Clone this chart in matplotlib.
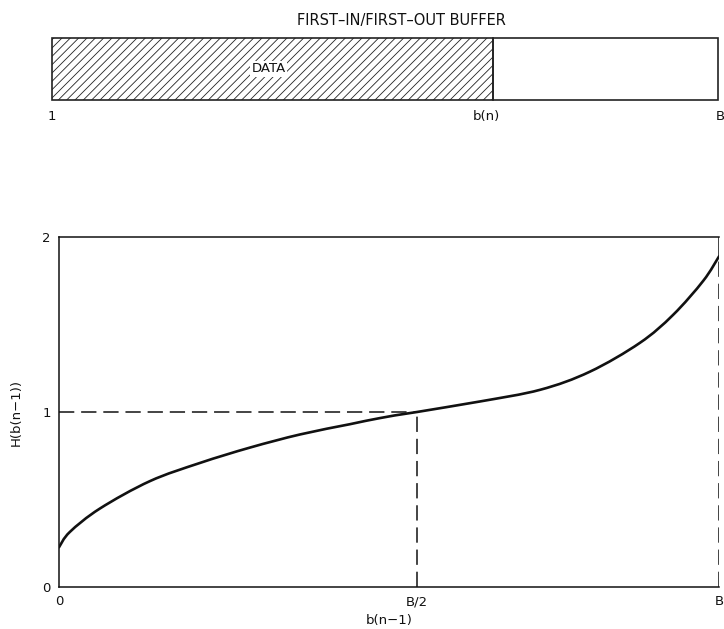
import numpy as np
import matplotlib
matplotlib.use("Agg")
import matplotlib.pyplot as plt
from matplotlib.patches import Rectangle, PathPatch
from matplotlib.path import Path

plt.rcParams["font.family"] = ["DejaVu Sans"]
plt.rcParams["hatch.linewidth"] = 0.6

# buffer occupancy (fraction of B) and the gain curve H(b(n-1))
buffer_fill = 0.662
b_frac = [0.0, 0.015, 0.057, 0.127, 0.197, 0.267, 0.337, 0.406, 0.448, 0.5,
          0.604, 0.704, 0.786, 0.869, 0.924, 0.974, 1.0]
h_val = [0.227, 0.314, 0.448, 0.605, 0.709, 0.797, 0.872, 0.930, 0.965, 1.0,
         1.06, 1.127, 1.23, 1.395, 1.555, 1.75, 1.889]
x_ticks = [0.0, 0.5, 1.0]
x_ticklabels = ["0", "B/2", "B"]
y_ticks = [0, 1, 2]

# the hand-drawn axis puts B/2 a bit right of centre
MID = 0.5424


def fwd(x):
    x = np.asarray(x, dtype=float)
    return np.where(x <= 0.5, x * MID / 0.5, MID + (x - 0.5) * (1 - MID) / 0.5)


def inv(u):
    u = np.asarray(u, dtype=float)
    return np.where(u <= MID, u * 0.5 / MID, 0.5 + (u - MID) * 0.5 / (1 - MID))


def smooth_path(xs, ys):
    # Catmull-Rom through the points, written as cubic Bezier segments
    p = np.column_stack([xs, ys])
    verts = [p[0]]
    codes = [Path.MOVETO]
    for i in range(len(p) - 1):
        p0 = p[i - 1] if i > 0 else p[i]
        p1, p2 = p[i], p[i + 1]
        p3 = p[i + 2] if i + 2 < len(p) else p[i + 1]
        verts += [p1 + (p2 - p0) / 6, p2 - (p3 - p1) / 6, p2]
        codes += [Path.CURVE4] * 3
    return Path(verts, codes)


W, H = 724, 629
fig = plt.figure(figsize=(W / 100, H / 100), dpi=100)
ink = "#111111"
fs = 9.5

# --- FIFO buffer strip ---
bx = fig.add_axes([52 / W, 1 - 100 / H, (718 - 52) / W, (100 - 38) / H])
bx.set_xlim(0, 1)
bx.set_ylim(0, 1)
bx.axis("off")
bx.add_patch(Rectangle((0, 0), buffer_fill, 1, facecolor="white",
                       edgecolor="#222222", hatch="////", lw=1.2, clip_on=False))
bx.add_patch(Rectangle((buffer_fill, 0), 1 - buffer_fill, 1, facecolor="none",
                       edgecolor="#222222", lw=1.2, clip_on=False))
bx.text(0.325, 0.5, "DATA", ha="center", va="center", fontsize=fs,
        color=ink, bbox=dict(facecolor="white", edgecolor="none", pad=1.0))
bx.text(0.525, 1.29, "FIRST\u2013IN/FIRST\u2013OUT BUFFER", ha="center", va="center",
        fontsize=10.5, color=ink)
for xv, lab in [(0.0, "1"), (buffer_fill - 0.01, "b(n)"), (1.003, "B")]:
    bx.text(xv, -0.27, lab, ha="center", va="center", fontsize=fs, color=ink)

# --- gain curve ---
ax = fig.add_axes([59 / W, 1 - 587 / H, (719 - 59) / W, (587 - 237) / H])
ax.set_xscale("function", functions=(fwd, inv))
ax.set_xlim(0, 1)
ax.set_ylim(0, 2)

ax.add_patch(PathPatch(smooth_path(b_frac, h_val), facecolor="none",
                       edgecolor=ink, lw=1.9, capstyle="round"))

dash = dict(color=ink, lw=1.1, ls=(0, (10, 4.5)))
ax.plot([0, 0.5], [1, 1], **dash)
ax.plot([0.5, 0.5], [0, 1], **dash)
ax.plot([1, 1], [0, h_val[-1]], **dash)
ax.plot([1, 1], [h_val[-1], 2], color=ink, lw=1.1)

ax.spines["right"].set_visible(False)
for s in ["left", "bottom", "top"]:
    ax.spines[s].set_linewidth(1.1)
    ax.spines[s].set_color(ink)

ax.set_xticks(x_ticks)
ax.set_xticklabels(x_ticklabels)
ax.set_yticks(y_ticks)
ax.tick_params(axis="x", length=0, labelsize=fs, colors=ink, pad=6)
ax.tick_params(axis="y", length=0, labelsize=fs, colors=ink, pad=6)
ax.minorticks_off()
ax.set_xlabel("b(n\u22121)", fontsize=fs, color=ink, labelpad=4)
ax.set_ylabel("H(b(n\u22121))", fontsize=fs, color=ink, labelpad=14)

fig.savefig("out.png", dpi=100)
